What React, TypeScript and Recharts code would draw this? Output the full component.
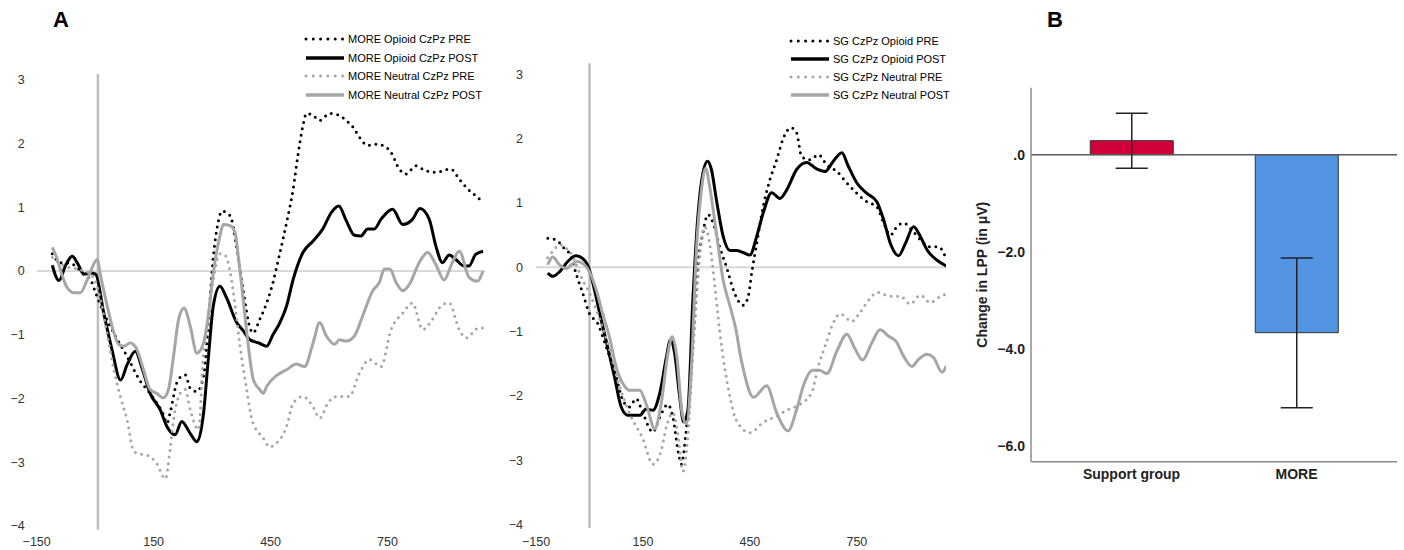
import {
  LineChart,
  Line,
  XAxis,
  YAxis,
  ReferenceLine,
  Legend,
  BarChart,
  Bar,
  Cell,
  ErrorBar,
  Label,
} from "recharts";

const FONT = '"Liberation Sans", Arial, sans-serif';

// ---- panel A data (time in ms, amplitude in µV) ----
const timeTicks = [-150, 150, 450, 750];
const voltTicks = [-4, -3, -2, -1, 0, 1, 2, 3];

type Pt = [number, number];

const moreOpioidPre: Pt[] = [
  [-110, 0.27], [-89, 0.13], [-63, 0.12], [-46, 0.05], [-29, -0.05], [-12, -0.13],
  [1, -0.34], [25, -0.7], [52, -1.02], [82, -1.34], [116, -1.73], [141, -1.92],
  [158, -2.07], [175, -2.25], [184, -2.39], [192, -2.23], [209, -1.76], [222, -1.65],
  [231, -1.63], [244, -1.84], [261, -1.89], [278, -1.65], [290, -0.83], [303, 0.22],
  [315, 0.75], [325, 0.94], [346, 0.87], [363, 0.37], [380, -0.31], [397, -0.89],
  [405, -0.97], [422, -0.76], [440, -0.5], [456, -0.18], [474, 0.29], [491, 0.76],
  [508, 1.29], [520, 1.81], [533, 2.28], [542, 2.47], [559, 2.44], [576, 2.36],
  [601, 2.47], [623, 2.45], [644, 2.36], [661, 2.26], [678, 2.1], [699, 1.97],
  [721, 1.99], [738, 1.97], [759, 1.86], [780, 1.6], [797, 1.52], [823, 1.65],
  [848, 1.57], [874, 1.55], [912, 1.6], [934, 1.44], [955, 1.29], [976, 1.18],
  [995, 1.08],
];

const moreOpioidPost: Pt[] = [
  [-110, 0.09], [-93, -0.15], [-75, 0.1], [-59, 0.23], [-45, 0.12], [-29, -0.05],
  [-12, -0.03], [1, -0.05], [22, -0.66], [43, -1.23], [65, -1.71], [82, -1.47],
  [103, -1.26], [120, -1.52], [141, -1.92], [167, -2.18], [184, -2.44], [205, -2.57],
  [222, -2.36], [244, -2.55], [261, -2.68], [278, -2.23], [290, -1.39], [303, -0.55],
  [320, -0.24], [337, -0.42], [363, -0.81], [380, -0.94], [397, -1.08], [420, -1.13],
  [440, -1.18], [456, -1.0], [474, -0.81], [491, -0.55], [508, -0.13], [533, 0.29],
  [559, 0.47], [584, 0.66], [606, 0.92], [625, 1.02], [644, 0.79], [665, 0.56],
  [682, 0.55], [699, 0.66], [716, 0.66], [733, 0.81], [763, 0.97], [789, 0.73],
  [814, 0.81], [833, 0.98], [857, 0.81], [874, 0.39], [891, 0.13], [908, 0.25],
  [925, 0.18], [946, 0.08], [959, 0.08], [976, 0.26], [995, 0.31],
];

const moreNeutralPre: Pt[] = [
  [-110, 0.21], [-80, 0.08], [-45, 0.03], [-12, -0.05], [3, -0.2], [14, -0.45],
  [31, -1.0], [48, -1.55], [65, -1.98], [82, -2.34], [99, -2.83], [116, -2.87],
  [133, -2.89], [158, -3.02], [180, -3.26], [192, -2.81], [201, -2.34], [218, -1.92],
  [231, -1.86], [244, -2.18], [265, -2.49], [278, -1.29], [286, -0.92], [303, -0.13],
  [320, 0.27], [333, 0.25], [346, 0.0], [360, -0.6], [372, -1.2], [388, -1.83],
  [403, -2.35], [431, -2.62], [448, -2.76], [465, -2.7], [491, -2.44], [508, -2.07],
  [533, -1.97], [559, -2.13], [576, -2.31], [597, -2.07], [618, -1.97], [652, -1.97],
  [678, -1.6], [704, -1.39], [733, -1.5], [759, -0.92], [789, -0.66], [814, -0.5],
  [840, -0.92], [865, -0.76], [887, -0.55], [908, -0.5], [934, -0.92], [951, -1.05],
  [985, -0.89], [997, -0.9],
];

const moreNeutralPost: Pt[] = [
  [-110, 0.37], [-97, 0.18], [-84, -0.08], [-72, -0.26], [-55, -0.34], [-38, -0.34],
  [-20, -0.13], [-8, 0.05], [5, 0.18], [14, -0.08], [31, -0.55], [48, -0.97],
  [60, -1.15], [73, -1.18], [90, -1.13], [107, -1.23], [124, -1.55], [141, -1.86],
  [158, -1.92], [175, -1.99], [188, -1.86], [201, -1.34], [214, -0.76], [228, -0.58],
  [244, -0.87], [261, -1.29], [278, -1.13], [290, -0.71], [303, -0.03], [320, 0.55],
  [329, 0.73], [346, 0.71], [359, 0.6], [367, 0.24], [376, -0.24], [389, -0.97],
  [406, -1.71], [422, -1.86], [431, -1.92], [440, -1.81], [465, -1.64], [491, -1.55],
  [516, -1.46], [537, -1.5], [559, -1.13], [576, -0.81], [593, -1.02], [614, -1.15],
  [627, -1.08], [644, -1.1], [665, -1.02], [686, -0.71], [712, -0.31], [729, -0.18],
  [742, 0.03], [756, 0.03], [772, -0.18], [789, -0.31], [806, -0.21], [831, 0.13],
  [853, 0.29], [874, 0.1], [895, -0.14], [916, 0.13], [934, 0.31], [959, -0.1],
  [980, -0.16], [995, 0.0],
];

const sgOpioidPre: Pt[] = [
  [-117, 0.45], [-94, 0.43], [-75, 0.32], [-52, 0.17], [-38, -0.09], [-19, -0.4],
  [0, -0.72], [23, -0.87], [47, -1.24], [70, -1.6], [94, -2.07], [112, -2.17],
  [131, -2.04], [150, -2.27], [178, -2.56], [197, -2.33], [220, -2.13], [234, -2.33],
  [250, -2.9], [258, -3.06], [270, -2.6], [282, -1.9], [294, -0.9], [304, 0.0],
  [318, 0.53], [332, 0.82], [347, 0.69], [365, 0.32], [384, 0.01], [407, -0.4],
  [431, -0.59], [445, -0.46], [455, -0.09], [469, 0.37], [487, 0.94], [506, 1.36],
  [525, 1.67], [544, 2.01], [565, 2.17], [581, 2.09], [595, 1.72], [619, 1.67],
  [642, 1.75], [666, 1.59], [694, 1.49], [722, 1.31], [750, 1.15], [778, 1.02],
  [806, 0.94], [825, 0.69], [844, 0.5], [862, 0.63], [881, 0.69], [904, 0.58],
  [928, 0.43], [956, 0.32], [979, 0.32], [998, 0.17],
];

const sgOpioidPost: Pt[] = [
  [-117, -0.09], [-103, -0.14], [-84, -0.07], [-61, 0.09], [-38, 0.18], [-14, 0.11],
  [0, -0.04], [14, -0.35], [33, -0.82], [51, -1.24], [70, -1.7], [89, -2.17],
  [108, -2.3], [141, -2.3], [159, -2.2], [178, -2.22], [197, -1.96], [216, -1.39],
  [227, -1.13], [239, -1.34], [253, -2.01], [264, -2.4], [276, -2.22], [290, -0.51],
  [304, 0.79], [318, 1.46], [331, 1.65], [342, 1.52], [356, 1.05], [375, 0.48],
  [394, 0.26], [412, 0.26], [431, 0.23], [450, 0.19], [469, 0.48], [487, 0.84],
  [511, 1.16], [534, 1.07], [553, 1.2], [581, 1.52], [609, 1.63], [637, 1.53],
  [661, 1.49], [684, 1.65], [708, 1.78], [726, 1.57], [750, 1.31], [778, 1.15],
  [806, 1.02], [825, 0.74], [844, 0.37], [867, 0.18], [886, 0.37], [909, 0.63],
  [928, 0.48], [947, 0.27], [975, 0.11], [1001, 0.02],
];

const sgNeutralPre: Pt[] = [
  [-117, 0.15], [-103, 0.25], [-84, 0.35], [-66, 0.3], [-50, 0.2], [-38, 0.05],
  [-19, -0.2], [0, -0.4], [28, -0.8], [56, -1.27], [84, -1.84], [112, -2.26],
  [150, -2.67], [178, -3.06], [201, -2.85], [216, -2.47], [234, -2.26], [248, -2.6],
  [262, -3.17], [276, -2.62], [290, -1.33], [304, -0.2], [314, 0.4], [323, 0.63],
  [337, 0.37], [351, -0.25], [365, -0.98], [379, -1.55], [394, -2.01], [412, -2.38],
  [450, -2.57], [487, -2.41], [525, -2.31], [557, -2.21], [590, -2.13], [623, -1.95],
  [642, -1.53], [661, -1.22], [684, -0.86], [703, -0.72], [736, -0.84], [759, -0.7],
  [787, -0.48], [806, -0.39], [844, -0.45], [872, -0.45], [900, -0.57], [928, -0.43],
  [956, -0.55], [979, -0.47], [998, -0.42],
];

const sgNeutralPost: Pt[] = [
  [-117, 0.04], [-103, 0.16], [-84, 0.04], [-66, -0.02], [-47, 0.06], [-33, 0.09],
  [-14, 0.04], [0, -0.07], [19, -0.35], [37, -0.72], [56, -1.08], [75, -1.55],
  [94, -1.81], [112, -1.91], [141, -1.91], [159, -2.12], [183, -2.51], [201, -2.12],
  [220, -1.34], [232, -1.08], [245, -1.39], [260, -2.27], [272, -2.43], [286, -1.55],
  [300, 0.27], [314, 1.2], [326, 1.54], [337, 1.26], [356, 0.53], [375, -0.2],
  [394, -0.6], [412, -1.0], [422, -1.33], [431, -1.57], [460, -2.02], [497, -1.84],
  [525, -2.26], [557, -2.54], [581, -2.21], [600, -1.84], [626, -1.6], [645, -1.6],
  [666, -1.65], [694, -1.3], [722, -1.04], [745, -1.27], [766, -1.44], [792, -1.17],
  [815, -0.97], [839, -1.07], [860, -1.15], [881, -1.38], [904, -1.54], [923, -1.43],
  [947, -1.35], [965, -1.4], [989, -1.63], [1001, -1.53],
];

// ---- panel B data ----
const groups = ["Support group", "MORE"];
const lppChange = [0.29, -3.67];
const ciLow = [-0.28, -5.22];
const ciHigh = [0.855, -2.13];
const barColors = ["#d2003a", "#5294e2"];

type Series = { name: string; points: Pt[]; color: string; dotted: boolean };

const moreSeries: Series[] = [
  { name: "MORE Opioid CzPz PRE", points: moreOpioidPre, color: "#000000", dotted: true },
  { name: "MORE Opioid CzPz POST", points: moreOpioidPost, color: "#000000", dotted: false },
  { name: "MORE Neutral CzPz PRE", points: moreNeutralPre, color: "#a6a6a6", dotted: true },
  { name: "MORE Neutral CzPz POST", points: moreNeutralPost, color: "#a6a6a6", dotted: false },
];

const sgSeries: Series[] = [
  { name: "SG CzPz Opioid PRE", points: sgOpioidPre, color: "#000000", dotted: true },
  { name: "SG CzPz Opioid POST", points: sgOpioidPost, color: "#000000", dotted: false },
  { name: "SG CzPz Neutral PRE", points: sgNeutralPre, color: "#a6a6a6", dotted: true },
  { name: "SG CzPz Neutral POST", points: sgNeutralPost, color: "#a6a6a6", dotted: false },
];

const minus = (v: number) => (v < 0 ? `\u2212${Math.abs(v)}` : `${v}`);

function LegendBox({ items, rowH }: { items: Series[]; rowH: number }) {
  return (
    <div style={{ fontFamily: FONT, fontSize: 11, color: "#000" }}>
      {items.map((s) => (
        <div key={s.name} style={{ display: "flex", alignItems: "center", height: rowH }}>
          <svg width={44} height={8} style={{ display: "block" }}>
            <line
              x1={2}
              y1={4}
              x2={40}
              y2={4}
              stroke={s.color}
              strokeWidth={s.dotted ? 3 : 3.5}
              strokeDasharray={s.dotted ? "0 7.3" : undefined}
              strokeLinecap={s.dotted ? "round" : "butt"}
            />
          </svg>
          <span style={{ whiteSpace: "nowrap" }}>{s.name}</span>
        </div>
      ))}
    </div>
  );
}

function ErpPanel(props: {
  width: number;
  margin: { top: number; right: number; bottom: number; left: number };
  yAxisWidth: number;
  yDomain: [number, number];
  xAxisHeight: number;
  yTickMargin: number;
  xTickMargin: number;
  onset: number;
  series: Series[];
  legendLeft: number;
  legendTop: number;
  rowH: number;
}) {
  const p = props;
  return (
    <LineChart width={p.width} height={550} margin={p.margin}>
      <XAxis
        dataKey="t"
        type="number"
        domain={[-150, 1000]}
        ticks={timeTicks}
        allowDataOverflow
        axisLine={false}
        tickLine={false}
        tickSize={0}
        tickMargin={p.xTickMargin}
        height={p.xAxisHeight}
        tickFormatter={minus}
        tick={{ fill: "#333", fontSize: 12.5 }}
      />
      <YAxis
        type="number"
        domain={p.yDomain}
        ticks={voltTicks}
        allowDataOverflow
        axisLine={false}
        tickLine={false}
        tickSize={0}
        tickMargin={p.yTickMargin}
        width={p.yAxisWidth}
        tickFormatter={minus}
        tick={{ fill: "#333", fontSize: 12.5 }}
      />
      <ReferenceLine y={0} stroke="#d9d9d9" strokeWidth={2} />
      <ReferenceLine x={p.onset} stroke="#bfbfbf" strokeWidth={2.5} />
      {p.series.map((s) => (
        <Line
          key={s.name}
          name={s.name}
          data={s.points.map(([t, v]) => ({ t, v }))}
          dataKey="v"
          type="monotone"
          stroke={s.color}
          strokeWidth={3}
          strokeDasharray={s.dotted ? "0 6.5" : undefined}
          strokeLinecap={s.dotted ? "round" : "butt"}
          dot={false}
          activeDot={false}
          isAnimationActive={false}
        />
      ))}
      <Legend
        layout="vertical"
        align="center"
        verticalAlign="middle"
        width={210}
        wrapperStyle={{ left: p.legendLeft, top: p.legendTop }}
        content={() => <LegendBox items={p.series} rowH={p.rowH} />}
      />
    </LineChart>
  );
}

const barRows = groups.map((g, i) => ({
  group: g,
  value: lppChange[i],
  err: [lppChange[i] - ciLow[i], ciHigh[i] - lppChange[i]],
}));

const barTick = (v: number) => (v === 0 ? ".0" : `\u2212${Math.abs(v).toFixed(1)}`);

export default function App() {
  return (
    <div
      style={{
        position: "absolute",
        left: 0,
        top: 0,
        width: 1404,
        height: 550,
        background: "#fff",
        fontFamily: FONT,
        overflow: "hidden",
      }}
    >
      <div style={{ position: "absolute", left: 53, top: 9, fontSize: 22, fontWeight: 700, lineHeight: "22px" }}>A</div>
      <div style={{ position: "absolute", left: 1047, top: 9, fontSize: 22, fontWeight: 700, lineHeight: "22px" }}>B</div>

      <div style={{ position: "absolute", left: 0, top: 0 }}>
        <ErpPanel
          width={500}
          margin={{ top: 74, right: 15, bottom: 0, left: 0 }}
          yAxisWidth={36.7}
          yDomain={[-4.06, 3.09]}
          xAxisHeight={20.2}
          yTickMargin={12}
          xTickMargin={7}
          onset={7}
          series={moreSeries}
          legendLeft={304}
          legendTop={30}
          rowH={18.5}
        />
      </div>

      <div style={{ position: "absolute", left: 500, top: 0 }}>
        <ErpPanel
          width={460}
          margin={{ top: 63.3, right: 14, bottom: 0, left: 0 }}
          yAxisWidth={36}
          yDomain={[-4.05, 3.17]}
          xAxisHeight={22}
          yTickMargin={13}
          xTickMargin={9}
          onset={0}
          series={sgSeries}
          legendLeft={289}
          legendTop={31.5}
          rowH={18}
        />
      </div>

      <div style={{ position: "absolute", left: 960, top: 0 }}>
        <BarChart
          width={444}
          height={550}
          data={barRows}
          margin={{ top: 87.8, right: 7, bottom: 58.3, left: 0 }}
          barCategoryGap="25%"
        >
          <XAxis
            dataKey="group"
            axisLine={{ stroke: "#8c8c8c", strokeWidth: 1.5 }}
            tickLine={false}
            tickSize={0}
            tickMargin={7}
            height={30}
            interval={0}
            padding={{ left: 18, right: 18 }}
            tick={{ fill: "#222", fontSize: 14, fontWeight: 700 }}
          />
          <YAxis
            type="number"
            domain={[-6.33, 1.38]}
            ticks={[-6, -4, -2, 0]}
            allowDataOverflow
            width={71}
            axisLine={{ stroke: "#8c8c8c", strokeWidth: 1.5 }}
            tickLine={false}
            tickSize={0}
            tickMargin={6}
            tickFormatter={barTick}
            tick={{ fill: "#222", fontSize: 14, fontWeight: 700 }}
          >
            <Label
              content={({ viewBox }: any) => {
                const cx = (viewBox?.x ?? 0) + 22;
                const cy = (viewBox?.y ?? 0) + (viewBox?.height ?? 0) / 2;
                return (
                  <text
                    x={cx}
                    y={cy}
                    transform={`rotate(-90 ${cx} ${cy})`}
                    textAnchor="middle"
                    dominantBaseline="central"
                    fontSize={14}
                    fontWeight={700}
                    fill="#222"
                  >
                    Change in LPP (in μV)
                  </text>
                );
              }}
            />
          </YAxis>
          <ReferenceLine y={0} stroke="#5a5a5a" strokeWidth={1.5} />
          <Bar dataKey="value" stroke="#333" strokeWidth={1} isAnimationActive={false}>
            {barRows.map((r, i) => (
              <Cell key={r.group} fill={barColors[i]} />
            ))}
            <ErrorBar dataKey="err" width={16} stroke="#222" strokeWidth={1.5} direction="y" isAnimationActive={false} />
          </Bar>
        </BarChart>
      </div>
    </div>
  );
}
